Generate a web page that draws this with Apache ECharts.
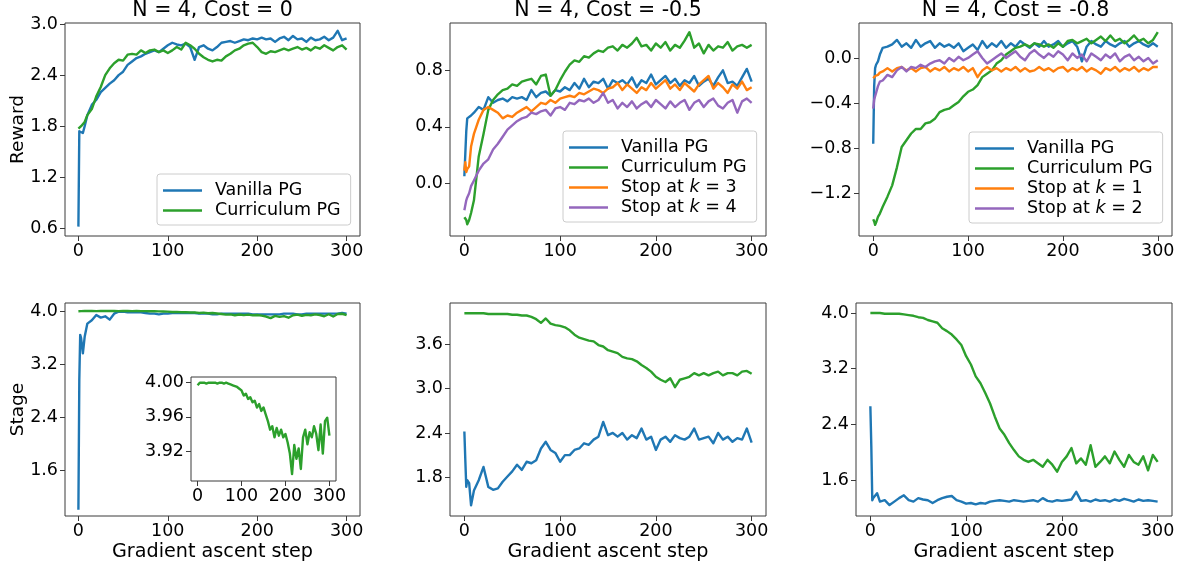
<!DOCTYPE html>
<html><head><meta charset="utf-8">
<script src="https://cdn.jsdelivr.net/npm/echarts@6/dist/echarts.min.js"></script>
<style>html,body{margin:0;padding:0;background:#fff}#c{width:1188px;height:564px}</style>
</head><body><div id="c"></div>
<script>
// ---------------- data ----------------
const STEPS = [0,1,2,3,5,7,10,15,20,25,30,35,40,45,50,55,60,65,70,75,80,85,90,95,100,105,110,115,120,125,130,135,140,145,150,155,160,165,170,175,180,185,190,195,200,205,210,215,220,225,230,235,240,245,250,255,260,265,270,275,280,285,290,295,300];

const TITLES = ['N = 4, Cost = 0', 'N = 4, Cost = -0.5', 'N = 4, Cost = -0.8'];
const X_TICKS = [0, 100, 200, 300];
const Y_TICKS = [
  [0.6, 1.2, 1.8, 2.4, 3.0],
  [0.0, 0.4, 0.8],
  [-1.2, -0.8, -0.4, 0.0],
  [1.6, 2.4, 3.2, 4.0],
  [1.8, 2.4, 3.0, 3.6],
  [1.6, 2.4, 3.2, 4.0],
  [3.92, 3.96, 4.00]
];

// Top row: reward
const p1Vanilla = [0.62,1.74,1.76,1.73,1.72,1.80,1.93,
 2.05,2.11,2.20,2.25,2.30,2.34,2.40,2.44,2.52,2.56,2.60,2.62,2.65,2.67,2.69,2.67,2.71,2.75,
 2.78,2.76,2.75,2.77,2.73,2.58,2.73,2.75,2.71,2.69,2.73,2.78,2.79,2.80,2.78,2.80,2.82,2.81,2.83,2.82,
 2.84,2.82,2.83,2.79,2.83,2.85,2.81,2.86,2.82,2.83,2.79,2.84,2.81,2.82,2.85,2.81,2.84,2.92,2.81,2.83];
const p1Curriculum = [1.77,1.78,1.76,1.80,1.82,1.85,1.93,
 2.00,2.15,2.26,2.40,2.48,2.54,2.58,2.57,2.64,2.65,2.64,2.69,2.66,2.69,2.70,2.67,2.69,2.66,
 2.69,2.73,2.70,2.78,2.75,2.71,2.65,2.61,2.58,2.56,2.58,2.57,2.62,2.65,2.69,2.71,2.75,2.77,2.78,2.73,
 2.67,2.65,2.68,2.67,2.69,2.71,2.69,2.71,2.73,2.70,2.72,2.69,2.73,2.71,2.75,2.72,2.69,2.73,2.75,2.70];

const p2Vanilla = [0.05,0.21,0.37,0.46,0.47,0.48,0.50,
 0.54,0.52,0.61,0.57,0.59,0.60,0.58,0.61,0.60,0.61,0.59,0.66,0.61,0.64,0.65,0.62,0.66,0.65,
 0.68,0.66,0.71,0.67,0.74,0.68,0.72,0.71,0.74,0.67,0.73,0.71,0.73,0.70,0.75,0.68,0.73,0.71,0.77,0.70,
 0.73,0.76,0.71,0.74,0.69,0.73,0.71,0.76,0.69,0.72,0.74,0.69,0.75,0.80,0.71,0.72,0.69,0.75,0.81,0.72];
const p2Curriculum = [-0.24,-0.25,-0.26,-0.29,-0.26,-0.21,-0.12,
 0.19,0.35,0.52,0.59,0.63,0.66,0.67,0.70,0.69,0.72,0.73,0.74,0.70,0.76,0.77,0.62,0.66,0.73,
 0.79,0.84,0.87,0.86,0.90,0.89,0.92,0.94,0.93,0.96,0.97,0.94,0.98,0.96,0.99,1.03,0.97,0.98,0.94,0.99,
 0.96,1.00,0.94,0.98,0.96,1.01,1.07,0.96,0.99,0.92,0.98,0.94,0.97,0.96,1.00,0.94,0.97,0.98,0.96,0.98];
const p2Stop3 = [0.09,0.15,0.08,0.10,0.12,0.26,0.35,
 0.45,0.52,0.54,0.52,0.50,0.46,0.48,0.47,0.50,0.52,0.54,0.51,0.54,0.57,0.56,0.59,0.57,0.60,
 0.61,0.62,0.61,0.64,0.63,0.65,0.67,0.66,0.64,0.67,0.68,0.71,0.66,0.70,0.67,0.64,0.68,0.66,0.71,0.67,
 0.70,0.73,0.67,0.70,0.66,0.71,0.68,0.65,0.70,0.73,0.76,0.67,0.71,0.68,0.64,0.70,0.67,0.72,0.66,0.68];
const p2Stop4 = [-0.19,-0.20,-0.12,-0.10,-0.07,-0.02,0.02,
 0.09,0.14,0.17,0.24,0.28,0.33,0.38,0.41,0.44,0.46,0.47,0.50,0.49,0.51,0.52,0.48,0.53,0.54,
 0.52,0.57,0.56,0.59,0.58,0.60,0.57,0.59,0.64,0.57,0.59,0.53,0.57,0.54,0.58,0.53,0.56,0.58,0.54,0.59,
 0.56,0.53,0.58,0.54,0.57,0.59,0.52,0.57,0.59,0.54,0.58,0.60,0.55,0.53,0.57,0.59,0.50,0.58,0.60,0.57];

const p3Vanilla = [-0.76,-0.25,-0.09,-0.06,-0.03,0.03,0.09,
 0.10,0.12,0.16,0.10,0.13,0.09,0.16,0.10,0.13,0.15,0.09,0.13,0.10,0.12,0.09,0.13,0.06,0.09,
 0.12,0.07,0.15,0.09,0.13,0.10,0.15,0.09,0.13,0.10,0.15,0.12,0.09,0.13,0.10,0.15,0.10,0.12,0.15,0.10,
 0.13,0.15,0.10,-0.03,0.10,0.15,0.12,0.10,0.15,0.12,0.10,0.13,0.15,0.10,0.13,0.15,0.12,0.10,0.13,0.10];
const p3Curriculum = [-1.43,-1.45,-1.48,-1.46,-1.41,-1.38,-1.32,
 -1.23,-1.13,-0.97,-0.79,-0.73,-0.67,-0.63,-0.63,-0.58,-0.57,-0.54,-0.48,-0.46,-0.45,-0.42,-0.39,-0.34,-0.30,
 -0.28,-0.24,-0.17,-0.14,-0.11,-0.05,-0.02,0.03,0.06,0.09,0.10,0.12,0.10,0.13,0.12,0.10,0.12,0.09,0.13,0.10,
 0.15,0.16,0.13,0.15,0.17,0.13,0.16,0.19,0.15,0.20,0.15,0.17,0.13,0.16,0.20,0.15,0.17,0.13,0.16,0.23];
const p3Stop1 = [-0.18,-0.17,-0.16,-0.15,-0.15,-0.13,-0.12,
 -0.09,-0.12,-0.09,-0.08,-0.11,-0.09,-0.12,-0.09,-0.08,-0.12,-0.09,-0.11,-0.08,-0.12,-0.09,-0.11,-0.08,-0.12,
 -0.09,-0.17,-0.11,-0.08,-0.11,-0.09,-0.12,-0.09,-0.11,-0.08,-0.12,-0.09,-0.12,-0.11,-0.08,-0.11,-0.09,-0.12,-0.09,-0.08,
 -0.12,-0.09,-0.11,-0.08,-0.12,-0.09,-0.11,-0.14,-0.09,-0.11,-0.08,-0.12,-0.09,-0.11,-0.08,-0.12,-0.09,-0.11,-0.08,-0.08];
const p3Stop2 = [-0.45,-0.37,-0.34,-0.31,-0.25,-0.21,-0.20,
 -0.15,-0.17,-0.11,-0.08,-0.12,-0.08,-0.09,-0.06,-0.08,-0.05,-0.03,-0.02,-0.05,0.00,-0.03,0.01,-0.02,0.00,
 0.03,0.06,0.00,-0.05,-0.02,0.01,0.04,0.00,0.03,0.06,0.01,-0.02,0.04,0.07,0.03,0.00,0.04,0.01,0.06,0.03,
 -0.02,0.04,0.00,0.03,-0.03,0.04,0.01,-0.02,0.03,0.00,0.04,-0.03,0.01,0.03,-0.02,0.01,-0.03,0.00,-0.05,-0.02];

// Bottom row: stage
const p4Vanilla = [1.00,2.96,3.64,3.59,3.36,3.61,3.81,
 3.86,3.94,3.90,3.92,3.87,3.96,3.99,3.99,3.98,3.98,3.98,3.98,3.97,3.96,3.96,3.95,3.96,3.96,
 3.97,3.97,3.97,3.97,3.97,3.97,3.96,3.96,3.96,3.95,3.95,3.96,3.96,3.96,3.96,3.96,3.96,3.96,3.95,3.95,
 3.95,3.95,3.95,3.95,3.95,3.96,3.96,3.96,3.95,3.95,3.96,3.96,3.96,3.96,3.96,3.96,3.96,3.96,3.97,3.96];
const p4Curriculum = [3.997,3.998,3.999,3.999,4.000,4.000,4.000,
 4.000,3.999,4.000,4.000,4.000,4.000,3.999,4.000,4.000,3.999,4.000,3.999,3.998,3.997,3.996,3.995,3.993,3.991,
 3.985,3.987,3.981,3.983,3.977,3.979,3.971,3.975,3.967,3.971,3.963,3.955,3.945,3.949,3.936,3.947,3.938,3.945,3.936,3.940,
 3.930,3.917,3.893,3.927,3.911,3.923,3.899,3.936,3.945,3.928,3.942,3.936,3.949,3.940,3.921,3.951,3.917,3.955,3.959,3.938];

const p5Vanilla = [2.42,2.03,1.67,1.76,1.72,1.42,1.62,
 1.76,1.94,1.67,1.63,1.65,1.74,1.81,1.88,1.97,1.90,2.01,1.99,2.03,2.19,2.28,2.17,2.13,2.01,
 2.10,2.10,2.17,2.19,2.26,2.24,2.31,2.35,2.55,2.37,2.40,2.35,2.40,2.31,2.37,2.33,2.46,2.31,2.35,2.17,
 2.31,2.35,2.28,2.37,2.33,2.31,2.35,2.46,2.31,2.33,2.35,2.26,2.40,2.31,2.35,2.28,2.33,2.31,2.46,2.27];
const p5Curriculum = [4.02,4.02,4.02,4.02,4.02,4.02,4.02,
 4.02,4.02,4.01,4.01,4.01,4.01,4.01,4.00,4.00,3.99,3.99,3.97,3.94,3.89,3.95,3.88,3.86,3.85,
 3.83,3.79,3.73,3.69,3.67,3.65,3.64,3.59,3.57,3.52,3.50,3.48,3.43,3.41,3.40,3.37,3.32,3.28,3.23,3.16,
 3.12,3.09,3.14,3.02,3.12,3.14,3.16,3.21,3.18,3.21,3.18,3.21,3.23,3.18,3.21,3.21,3.18,3.23,3.24,3.20];

const p6Vanilla = [2.66,2.08,1.31,1.34,1.36,1.41,1.29,
 1.31,1.24,1.29,1.34,1.38,1.31,1.29,1.34,1.32,1.31,1.27,1.31,1.34,1.36,1.37,1.31,1.29,1.26,
 1.27,1.25,1.27,1.26,1.29,1.30,1.31,1.30,1.29,1.31,1.30,1.29,1.30,1.31,1.29,1.34,1.30,1.29,1.31,1.30,
 1.31,1.32,1.43,1.30,1.31,1.29,1.32,1.30,1.31,1.29,1.32,1.30,1.33,1.31,1.29,1.32,1.30,1.31,1.30,1.29];
const p6Curriculum = [4.00,4.00,4.00,4.00,4.00,4.00,4.00,
 3.99,3.99,3.99,3.99,3.98,3.97,3.96,3.94,3.93,3.90,3.88,3.86,3.78,3.74,3.69,3.62,3.54,3.38,
 3.26,3.09,2.99,2.85,2.70,2.51,2.34,2.25,2.13,2.03,1.94,1.89,1.86,1.89,1.84,1.79,1.89,1.82,1.72,1.86,
 1.94,2.06,1.84,1.91,1.82,2.10,1.79,1.86,1.94,1.84,2.01,1.89,1.79,1.96,1.86,1.82,1.94,1.74,1.96,1.86];

// ---------------- styling / layout ----------------
const FONT = 'DejaVu Sans';
const SPINE = '#3a3a3a';
const C = { blue: '#1f77b4', green: '#2ca02c', orange: '#ff7f0e', purple: '#9467bd' };

const GRIDS = [
  { left: 65,  top: 23,  width: 295, height: 213 },
  { left: 450, top: 23,  width: 316, height: 213 },
  { left: 859, top: 23,  width: 313, height: 213 },
  { left: 65,  top: 303, width: 295, height: 213 },
  { left: 450, top: 303, width: 316, height: 213 },
  { left: 856, top: 303, width: 316, height: 213 },
  { left: 191, top: 377, width: 145, height: 104 }
];
const Y_RANGE = [[0.51, 3.012], [-0.373, 1.135], [-1.579, 0.310], [0.906, 4.121], [1.276, 4.159], [1.083, 4.144], [3.8849, 4.0067]];
const Y_NAME = ['Reward', '', '', 'Stage', '', '', ''];
const X_NAME = ['', '', '', 'Gradient ascent step', 'Gradient ascent step', 'Gradient ascent step', ''];

const SERIES = [
  [0, 'Vanilla PG', C.blue, p1Vanilla],
  [0, 'Curriculum PG', C.green, p1Curriculum],
  [1, 'Vanilla PG', C.blue, p2Vanilla],
  [1, 'Curriculum PG', C.green, p2Curriculum],
  [1, 'Stop at k = 3', C.orange, p2Stop3],
  [1, 'Stop at k = 4', C.purple, p2Stop4],
  [2, 'Vanilla PG', C.blue, p3Vanilla],
  [2, 'Curriculum PG', C.green, p3Curriculum],
  [2, 'Stop at k = 1', C.orange, p3Stop1],
  [2, 'Stop at k = 2', C.purple, p3Stop2],
  [3, 'Vanilla PG', C.blue, p4Vanilla],
  [3, 'Curriculum PG', C.green, p4Curriculum],
  [4, 'Vanilla PG', C.blue, p5Vanilla],
  [4, 'Curriculum PG', C.green, p5Curriculum],
  [5, 'Vanilla PG', C.blue, p6Vanilla],
  [5, 'Curriculum PG', C.green, p6Curriculum],
  [6, 'Curriculum PG', C.green, p4Curriculum]
];

const LEGENDS = [
  { names: ['Vanilla PG', 'Curriculum PG'], left: 157, top: 174 },
  { names: ['Vanilla PG', 'Curriculum PG', 'Stop at k = 3', 'Stop at k = 4'], left: 563, top: 131 },
  { names: ['Vanilla PG', 'Curriculum PG', 'Stop at k = 1', 'Stop at k = 2'], left: 969, top: 132 }
];

function fmtTick(v, dec) {
  const s = Math.abs(v).toFixed(dec);
  return (v < -1e-9 ? '\u2212' : '') + s;
}

const grid = GRIDS.map((g, i) => Object.assign({}, g, {
  show: true, borderColor: SPINE, borderWidth: 1,
  backgroundColor: i === 6 ? '#ffffff' : 'transparent',
  containLabel: false, outerBoundsMode: 'none', z: i === 6 ? 5 : 0
}));

const xAxis = GRIDS.map((g, i) => ({
  gridIndex: i, type: 'value', min: -15, max: 315, position: 'bottom',
  axisLine: { show: false, onZero: false }, splitLine: { show: false },
  axisTick: { show: true, inside: false, length: 5, customValues: X_TICKS, lineStyle: { color: SPINE, width: 1 } },
  axisLabel: { customValues: X_TICKS, margin: 6, fontSize: 17.5, fontFamily: FONT, color: '#000' },
  name: X_NAME[i], nameLocation: 'middle', nameGap: 27, nameMoveOverlap: false,
  nameTextStyle: { fontSize: 19.2, fontFamily: FONT, color: '#000' },
  z: i === 6 ? 6 : 0
}));

const yAxis = GRIDS.map((g, i) => ({
  gridIndex: i, type: 'value', min: Y_RANGE[i][0], max: Y_RANGE[i][1], position: 'left',
  axisLine: { show: false, onZero: false }, splitLine: { show: false },
  axisTick: { show: true, inside: false, length: 5, customValues: Y_TICKS[i], lineStyle: { color: SPINE, width: 1 } },
  axisLabel: { customValues: Y_TICKS[i], margin: 7, fontSize: 17.5, fontFamily: FONT, color: '#000',
    formatter: v => fmtTick(v, i === 6 ? 2 : 1) },
  name: Y_NAME[i], nameLocation: 'middle', nameGap: 37, nameRotate: 90, nameMoveOverlap: false,
  nameTextStyle: { fontSize: 18.5, fontFamily: FONT, color: '#000' },
  z: i === 6 ? 6 : 0
}));

const series = SERIES.map(([gi, name, color, ys]) => ({
  type: 'line', name, xAxisIndex: gi, yAxisIndex: gi,
  data: STEPS.map((x, k) => [x, ys[k]]),
  showSymbol: false, symbol: 'none', smooth: false, clip: true,
  lineStyle: { color, width: 2.4, join: 'round' }, itemStyle: { color },
  emphasis: { disabled: true }, silent: true, animation: false,
  z: gi === 6 ? 7 : 2
}));

const legend = LEGENDS.map(L => ({
  data: L.names, left: L.left, top: L.top, orient: 'vertical',
  icon: 'rect', itemWidth: 39, itemHeight: 2.5, itemGap: 2,
  selectedMode: false,
  padding: [7.5, 10, 5.5, 6],
  backgroundColor: 'rgba(255,255,255,0.85)', borderColor: '#cccccc', borderWidth: 1, borderRadius: 3,
  formatter: name => {
    const m = name.match(/^Stop at k = (\d)$/);
    if (m) return '{s| }{t|Stop at }{i|k}{t| = ' + m[1] + '}';
    return '{s| }{t|' + name + '}';
  },
  textStyle: {
    fontSize: 17.5, fontFamily: FONT, color: '#000',
    rich: {
      s: { width: 8, fontSize: 17.5 },
      t: { fontSize: 17.5, fontFamily: FONT, color: '#000' },
      i: { fontSize: 17.5, fontFamily: FONT, color: '#000', fontStyle: 'italic' }
    }
  }
}));

const title = TITLES.map((t, i) => ({
  text: t, left: GRIDS[i].left + GRIDS[i].width / 2, top: 0, padding: 0,
  textAlign: 'center', itemGap: 0,
  textStyle: { fontSize: 20.5, fontFamily: FONT, color: '#000', fontWeight: 'normal' }
}));

const chart = echarts.init(document.getElementById('c'), null, { renderer: 'canvas' });
chart.setOption({
  backgroundColor: '#ffffff',
  animation: false,
  title, grid, xAxis, yAxis, series, legend,
  tooltip: { show: false }
});
</script>
</body></html>
